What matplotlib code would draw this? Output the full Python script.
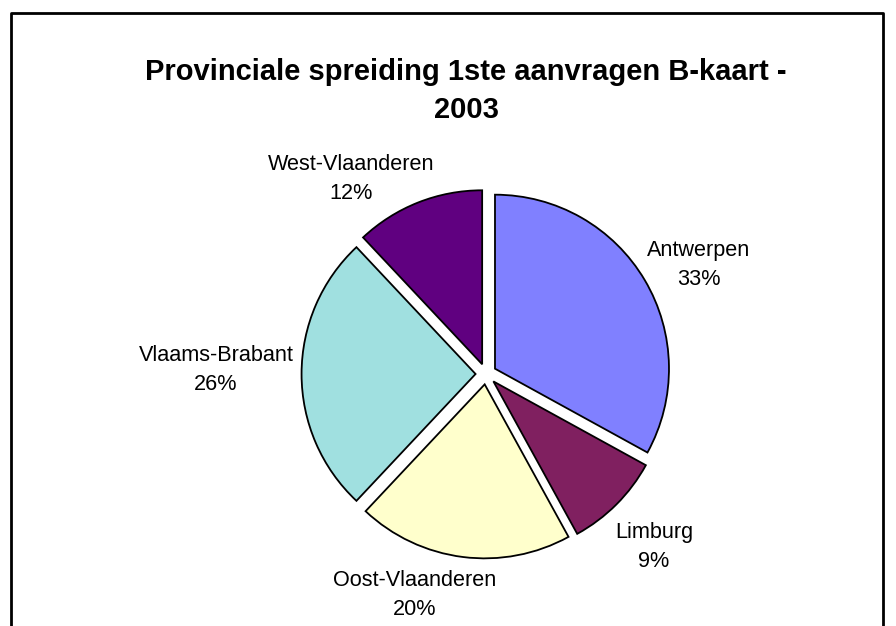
import matplotlib
matplotlib.use('Agg')
import matplotlib.pyplot as plt
from matplotlib.lines import Line2D

# data
provincies = ['Antwerpen', 'Limburg', 'Oost-Vlaanderen', 'Vlaams-Brabant', 'West-Vlaanderen']
aandeel = [33, 9, 20, 26, 12]
kleuren = ['#8080FF', '#802060', '#FFFFCC', '#A0E0E0', '#600080']

# label centres in pixels (x from left, y from top)
label_px = [(699, 265), (654, 547), (415, 595), (216, 370), (351, 179)]

W, H = 896, 626
cx, cy, r = 486, 374, 174

fig = plt.figure(figsize=(W / 100, H / 100), dpi=100)
ax = fig.add_axes([0, 0, 1, 1])
ax.axis('off')

wedges, texts = ax.pie(aandeel, colors=kleuren, startangle=90, counterclock=False,
                       explode=[0.06] * len(aandeel),
                       labels=[f'{p}\n{v}%' for p, v in zip(provincies, aandeel)],
                       wedgeprops=dict(edgecolor='black', linewidth=1.3),
                       textprops=dict(family='Liberation Sans', fontsize=15.6, linespacing=1.5))
ax.set_xlim(-cx / r, (W - cx) / r)
ax.set_ylim(-(H - cy) / r, cy / r)
ax.set_aspect('auto')

for t, (px, py) in zip(texts, label_px):
    t.set_position(((px - cx) / r, (cy - py) / r))
    t.set_ha('center')
    t.set_va('center')

fig.text(466 / W, 1 - 91 / H, 'Provinciale spreiding 1ste aanvragen B-kaart -\n2003',
         ha='center', va='center', family='Liberation Sans', fontweight='bold',
         fontsize=21, linespacing=1.45)

# chart frame (bottom edge falls outside the picture)
x0, x1, y0 = 11 / W, 883 / W, 1 - 12.5 / H
fig.add_artist(Line2D([x0, x0, x1, x1], [0, y0, y0, 0], color='black', linewidth=2))

fig.savefig('out.png', dpi=100)
